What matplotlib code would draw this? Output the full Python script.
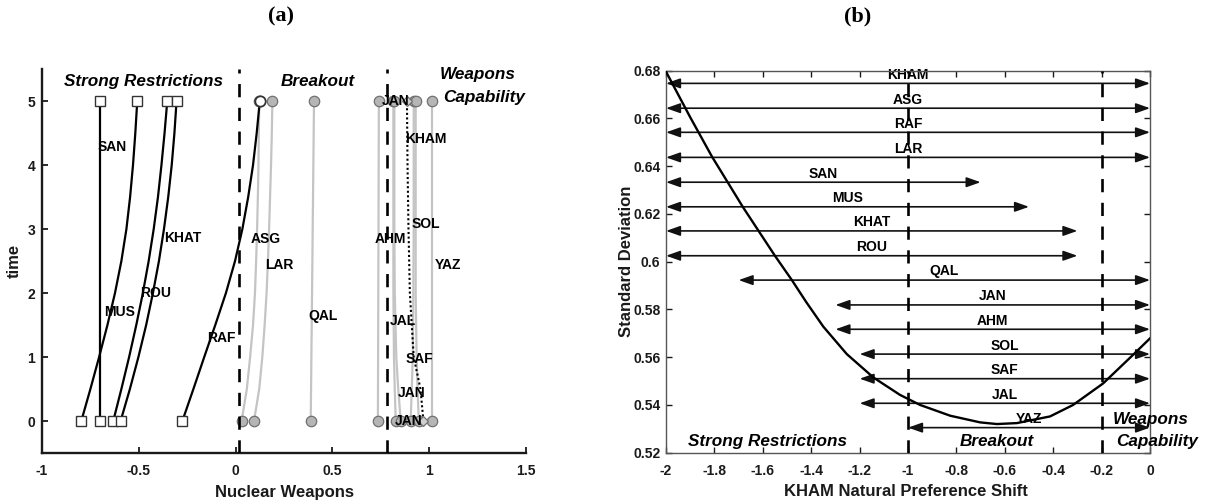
import matplotlib
matplotlib.use("Agg")
import matplotlib.pyplot as plt
from matplotlib.patches import ArrowStyle

# ---------------- panel (a): agent trajectories over time ----------------
t_grid = [0, 0.5, 1, 1.5, 2, 2.5, 3, 3.5, 4, 4.5, 5]
t_ends = [0, 5]
t_short = [0, 0.5, 1, 2, 3, 4, 5]

# strong-restriction agents (black)
san = [-0.70, -0.70]
mus = [-0.797, -0.75, -0.705, -0.662, -0.623, -0.59, -0.564, -0.545, -0.53, -0.518, -0.508]
rou = [-0.632, -0.59, -0.55, -0.513, -0.479, -0.449, -0.423, -0.401, -0.383, -0.367, -0.353]
khat = [-0.594, -0.546, -0.502, -0.462, -0.427, -0.396, -0.370, -0.348, -0.330, -0.316, -0.305]
raf = [-0.275, -0.218, -0.162, -0.105, -0.05, -0.003, 0.035, 0.065, 0.09, 0.109, 0.125]

# breakout agents (gray)
asg = [0.031, 0.058, 0.075, 0.09, 0.10, 0.106, 0.111, 0.115, 0.118, 0.12, 0.122]
lar = [0.095, 0.122, 0.138, 0.15, 0.16, 0.167, 0.173, 0.178, 0.183, 0.187, 0.19]
qal = [0.388, 0.405]

# weapons-capability agents (gray)
ahm = [0.735, 0.74]
yaz = [1.016, 1.016]
jal = [0.827, 0.822, 0.818, 0.815, 0.815, 0.815, 0.815]
jan = [0.853, 0.84, 0.83, 0.822, 0.82, 0.82, 0.82]
saf = [0.904, 0.91, 0.915, 0.918, 0.92, 0.92, 0.92]
sol = [0.946, 0.94, 0.935, 0.93, 0.93, 0.93, 0.93]
kham = [0.97, 0.955, 0.92, 0.90, 0.893, 0.888, 0.885]

labels_a = ['SAN', 'KHAT', 'ASG', 'LAR', 'MUS', 'ROU', 'RAF', 'QAL', 'JAL', 'SAF',
            'JAN', 'KHAM', 'SOL', 'AHM', 'YAZ', 'JAN', 'JAN']
label_x_a = [-0.636, -0.274, 0.155, 0.227, -0.60, -0.413, -0.072, 0.45, 0.863, 0.951,
             0.91, 0.982, 0.982, 0.80, 1.096, 0.827, 0.894]
label_t_a = [4.28, 2.86, 2.84, 2.44, 1.70, 2.0, 1.30, 1.64, 1.56, 0.97,
             0.44, 4.41, 3.08, 2.84, 2.44, 5.0, 0.0]

region_bounds_a = [0.02, 0.784]

# ---------------- panel (b): preference-shift ranges ----------------
names_b = ['KHAM', 'ASG', 'RAF', 'LAR', 'SAN', 'MUS', 'KHAT', 'ROU', 'QAL',
           'JAN', 'AHM', 'SOL', 'SAF', 'JAL', 'YAZ']
level_b = [0.6747, 0.6643, 0.6542, 0.6437, 0.6333, 0.6230, 0.6129, 0.6025, 0.5923,
           0.5819, 0.5717, 0.5613, 0.5510, 0.5407, 0.5305]
start_b = [-2, -2, -2, -2, -2, -2, -2, -2, -1.70, -1.30, -1.30, -1.20, -1.20, -1.20, -1.0]
end_b = [0, 0, 0, 0, -0.70, -0.50, -0.30, -0.30, 0, 0, 0, 0, 0, 0, 0]

shift_x = [-2.0, -1.9, -1.81, -1.683, -1.55, -1.48, -1.42, -1.35, -1.253, -1.143,
           -1.033, -0.95, -0.826, -0.702, -0.633, -0.55, -0.413, -0.318, -0.194, -0.07, 0.0]
std_y = [0.6796, 0.6605, 0.6440, 0.6230, 0.6025, 0.5923, 0.5830, 0.5728, 0.5613, 0.5515,
         0.5442, 0.5400, 0.5355, 0.5327, 0.5320, 0.5324, 0.5352, 0.5400, 0.5490, 0.5610, 0.5679]

region_bounds_b = [-1.0, -0.2]

# ---------------- styling ----------------
SANS = 'Liberation Sans'
TXT = '#1a1a1a'
GRAY = '#c4c4c4'
plt.rcParams['font.family'] = [SANS, 'DejaVu Sans']
plt.rcParams['font.weight'] = 'bold'

fig = plt.figure(figsize=(12.07, 5.03), dpi=100)
axa = fig.add_axes([0.0348, 0.0994, 0.401, 0.7634])
axb = fig.add_axes([0.5518, 0.100, 0.401, 0.7594])

# ---- panel (a) ----
black_kw = dict(color='black', lw=1.6, zorder=3)
for xs, ts in [(san, t_ends), (mus, t_grid), (rou, t_grid), (khat, t_grid), (raf, t_grid)]:
    axa.plot(xs, ts, **black_kw)
gray_kw = dict(color=GRAY, lw=1.6, zorder=2)
for xs, ts in [(asg, t_grid), (lar, t_grid), (qal, t_ends), (ahm, t_ends), (yaz, t_ends),
               (jal, t_short), (jan, t_short), (saf, t_short), (sol, t_short)]:
    axa.plot(xs, ts, **gray_kw)
    axa.plot([xs[0], xs[-1]], [ts[0], ts[-1]], ls='none', marker='o', ms=7.5,
             mfc='#b5b5b5', mec='#707070', mew=0.9, zorder=4)
axa.plot(kham, t_short, color='black', lw=1.5, ls=(0, (1, 1.2)), zorder=3)
axa.plot([kham[0], kham[-1]], [t_short[0], t_short[-1]], ls='none', marker='D', ms=5,
         mfc='#d0d0d0', mec='#707070', mew=0.9, zorder=4)

# squares for strong-restriction endpoints
for xs in [san, mus, rou, khat]:
    axa.plot([xs[0], xs[-1]], [0, 5], ls='none', marker='s', ms=6.5,
             mfc='white', mec='#333333', mew=1.0, zorder=5)
axa.plot([raf[0]], [0], ls='none', marker='s', ms=6.5, mfc='white', mec='#333333', mew=1.0, zorder=5)
axa.plot([raf[-1]], [5], ls='none', marker='o', ms=7.5, mfc='white', mec='#333333', mew=1.3, zorder=5)

for b in region_bounds_a:
    axa.axvline(b, color='black', lw=1.9, ls=(0, (5, 4)), zorder=6)

for name, x, t in zip(labels_a, label_x_a, label_t_a):
    axa.text(x, t, name, ha='center', va='center', fontsize=10, fontweight='bold',
             color='black', zorder=7)

ital = dict(fontsize=12.3, fontweight='bold', fontstyle='italic', color='black',
            ha='center', va='center', clip_on=False, zorder=8)
axa.text(-0.478, 5.31, 'Strong Restrictions', **ital)
axa.text(0.426, 5.31, 'Breakout', **ital)
axa.text(1.25, 5.41, 'Weapons', **ital)
axa.text(1.285, 5.06, 'Capability', **ital)

axa.set_xlim(-1, 1.5)
axa.set_ylim(-0.5, 5.5)
axa.set_xticks([-1, -0.5, 0, 0.5, 1, 1.5])
axa.set_xticklabels(['-1', '-0.5', '0', '0.5', '1', '1.5'])
axa.set_yticks([0, 1, 2, 3, 4, 5])
axa.spines['top'].set_visible(False)
axa.spines['right'].set_visible(False)
for s in ['left', 'bottom']:
    axa.spines[s].set_linewidth(1.7)
    axa.spines[s].set_color(TXT)
axa.tick_params(axis='both', direction='in', length=4, width=1.3, colors=TXT,
                labelsize=10)
axa.tick_params(axis='x', pad=8)
axa.tick_params(axis='y', pad=5)
for lab in axa.get_xticklabels() + axa.get_yticklabels():
    lab.set_fontweight('bold')
axa.set_xlabel('Nuclear Weapons', fontsize=12, fontweight='bold', color=TXT)
axa.set_ylabel('time', fontsize=12, fontweight='bold', color=TXT)
axa.xaxis.set_label_coords(0.502, -0.083)
axa.yaxis.set_label_coords(-0.041, 0.5)

# ---- panel (b) ----
head = ArrowStyle('<|-|>', head_length=0.85, head_width=0.3)
for name, y, s, e in zip(names_b, level_b, start_b, end_b):
    axb.annotate('', xy=(e, y), xytext=(s, y),
                 arrowprops=dict(arrowstyle=head, color='#111111', lw=1.2,
                                 shrinkA=0, shrinkB=0, mutation_scale=10),
                 zorder=3, annotation_clip=False)
    axb.text((s + e) / 2, y + 0.0036, name, ha='center', va='center',
             fontsize=10, fontweight='bold', color='black', zorder=2)

axb.plot(shift_x, std_y, color='black', lw=1.7, zorder=4)
for b in region_bounds_b:
    axb.axvline(b, color='black', lw=1.9, ls=(0, (5, 4)), zorder=5)

axb.text(-1.58, 0.5245, 'Strong Restrictions', **ital)
axb.text(-0.634, 0.5245, 'Breakout', **ital)
axb.text(0.002, 0.5341, 'Weapons', **ital)
axb.text(0.031, 0.5245, 'Capability', **ital)

axb.set_xlim(-2, 0)
axb.set_ylim(0.52, 0.68)
xt = [-2, -1.8, -1.6, -1.4, -1.2, -1, -0.8, -0.6, -0.4, -0.2, 0]
axb.set_xticks(xt)
axb.set_xticklabels(['-2', '-1.8', '-1.6', '-1.4', '-1.2', '-1', '-0.8', '-0.6', '-0.4', '-0.2', '0'])
yt = [0.52, 0.54, 0.56, 0.58, 0.6, 0.62, 0.64, 0.66, 0.68]
axb.set_yticks(yt)
axb.set_yticklabels(['0.52', '0.54', '0.56', '0.58', '0.6', '0.62', '0.64', '0.66', '0.68'])
for s in axb.spines.values():
    s.set_linewidth(1.0)
    s.set_color('#555555')
axb.tick_params(axis='both', direction='in', length=4, width=1.0, colors=TXT,
                labelsize=10, top=True, right=True)
axb.tick_params(axis='x', pad=8)
axb.tick_params(axis='y', pad=4)
for lab in axb.get_xticklabels() + axb.get_yticklabels():
    lab.set_fontweight('bold')
axb.set_xlabel('KHAM Natural Preference Shift', fontsize=12, fontweight='bold', color=TXT)
axb.set_ylabel('Standard Deviation', fontsize=12, fontweight='bold', color=TXT)
axb.xaxis.set_label_coords(0.496, -0.083)
axb.yaxis.set_label_coords(-0.066, 0.5)

# ---- panel titles ----
fig.text(281 / 1207, 1 - 16 / 503, '(a)', family='Liberation Serif', fontweight='bold',
         fontsize=16, ha='center', va='center')
fig.text(858 / 1207, 1 - 16 / 503, '(b)', family='Liberation Serif', fontweight='bold',
         fontsize=16, ha='center', va='center')

fig.savefig('out.png', dpi=100)
